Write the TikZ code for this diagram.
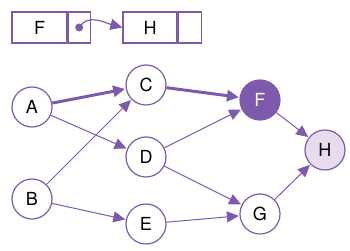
\documentclass[tikz,border=0pt]{standalone}
\usepackage{fontspec}
\setmainfont{TeX Gyre Heros}
\usetikzlibrary{arrows.meta}
\definecolor{graphpurple}{RGB}{125,90,172}
\definecolor{lightlilac}{RGB}{230,220,238}

\begin{document}
\begin{tikzpicture}[x=0.5pt, y=-0.5pt, every node/.style={font=\fontsize{9}{10}\selectfont}, >={Triangle[length=6pt, width=5.5pt]},
	vertex/.style={circle, draw=graphpurple, line width=0.6pt, minimum size=20pt, inner sep=0pt, fill=white},
	cell/.style={rectangle, draw=graphpurple, line width=0.6pt, minimum height=15.5pt, inner sep=0pt},
	edge/.style={->, draw=graphpurple, line width=0.5pt, shorten >=0.3pt},
	heavy/.style={edge, line width=1.5pt}]
	\useasboundingbox (0,0) rectangle (350,251);
	% list cells
	\node[cell, minimum width=27.5pt] (fcell) at (39.5,27.5) {F};
	\node[cell, minimum width=11pt, anchor=west] (fptr) at (fcell.east) {};
	\node[cell, minimum width=27pt] (hcell) at (150,27.5) {H};
	\node[cell, minimum width=11.5pt, anchor=west] (hptr) at (hcell.east) {};
	\fill[graphpurple] (fptr.center) circle (2pt);
	\draw[->, draw=graphpurple, line width=0.6pt] (fptr.center) to[out=60, in=165] (hcell.west);
	% graph
	\node[vertex] (A) at (32,107) {A};
	\node[vertex] (B) at (32,199) {B};
	\node[vertex] (C) at (146,85) {C};
	\node[vertex] (D) at (146,157) {D};
	\node[vertex] (E) at (146,224) {E};
	\node[vertex, fill=graphpurple, text=white] (F) at (260,100) {F};
	\node[vertex] (G) at (260,214) {G};
	\node[vertex, fill=lightlilac] (H) at (325,150) {H};
	\draw[heavy] (A) -- (C);
	\draw[heavy] (C) -- (F);
	\draw[edge] (A) -- (D);
	\draw[edge] (B) -- (C);
	\draw[edge] (B) -- (E);
	\draw[edge] (D) -- (F);
	\draw[edge] (D) -- (G);
	\draw[edge] (E) -- (G);
	\draw[edge] (F) -- (H);
	\draw[edge] (G) -- (H);
\end{tikzpicture}
\end{document}
